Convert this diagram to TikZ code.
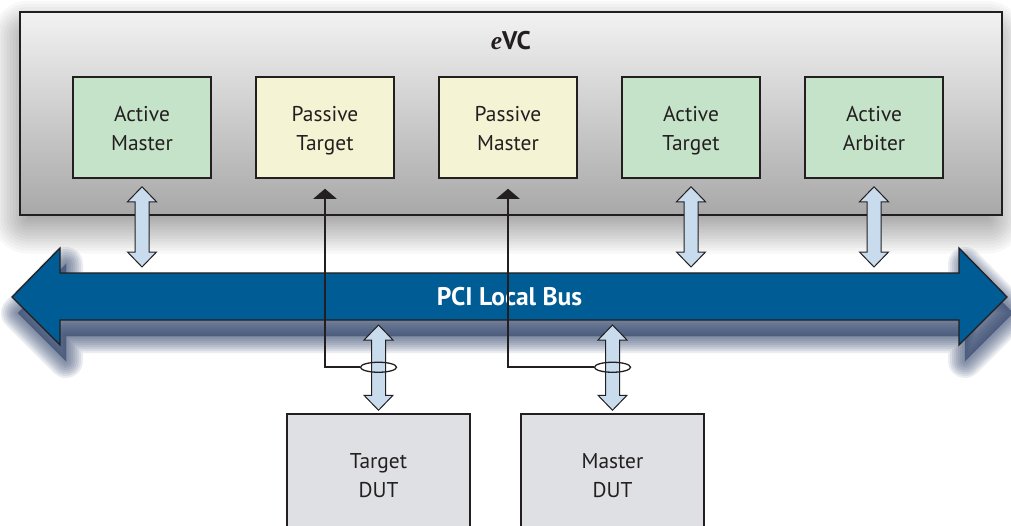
\documentclass[tikz,border=0pt]{standalone}
\usepackage{fontspec}
\setmainfont{PT Sans}
\newfontfamily\serifit{Liberation Serif}
\usetikzlibrary{positioning,arrows.meta,calc,shapes.geometric}

\pgfdeclarelayer{background}
\pgfsetlayers{background,main}

\definecolor{linedark}{HTML}{231F20}
\definecolor{activegreen}{HTML}{C5E3C9}
\definecolor{passiveyellow}{HTML}{F4F3D3}
\definecolor{busblue}{HTML}{005C94}
\definecolor{arrowblue}{HTML}{C9DCEE}
\definecolor{dutgray}{HTML}{DFE0E3}
\definecolor{busshadow}{HTML}{33466E}

% hollow double-headed arrow, #1 = upper tip, #2 = lower tip
\newcommand{\fatarrow}[2]{%
  \path[fat] let \p1=(#1), \p2=(#2) in
    (\x1,\y1) -- (\x1+14.5pt,\y1-15pt) -- (\x1+7pt,\y1-15pt)
    -- (\x1+7pt,\y2+15pt) -- (\x1+14.5pt,\y2+15pt) -- (\x1,\y2)
    -- (\x1-14.5pt,\y2+15pt) -- (\x1-7pt,\y2+15pt)
    -- (\x1-7pt,\y1-15pt) -- (\x1-14.5pt,\y1-15pt) -- cycle;}

\begin{document}
\begin{tikzpicture}[x=1pt, y=-1pt,
    unit/.style={draw=linedark, line width=1.5pt, minimum width=138pt, minimum height=101pt,
                 align=center, text=linedark, text height=52pt, text depth=5.5pt,
                 font=\fontsize{21.4}{29}\selectfont},
    active/.style={unit, fill=activegreen},
    passive/.style={unit, fill=passiveyellow},
    dut/.style={unit, fill=dutgray, minimum width=183pt, minimum height=121pt},
    fat/.style={fill=arrowblue, draw=linedark, line width=1pt},
    sigline/.style={draw=linedark, line width=2pt, -{Triangle[width=23pt,length=10pt]}},
    ring/.style={ellipse, draw=linedark, line width=1.3pt, minimum width=36pt,
                 minimum height=10pt, inner sep=0pt},
    bus shape/.style={insert path={(12,297) -- (60,248) -- (60,273) -- (959,273) -- (959,248)
                 -- (1007,297) -- (959,345) -- (959,320) -- (60,320) -- (60,345) -- cycle}}]
    \useasboundingbox (0,0) rectangle (1011,525);
    \clip (0,0) rectangle (1011,525);

    % eVC frame and its units
    \node[draw=linedark, line width=1.6pt, top color=black!5, bottom color=black!34,
          minimum width=982pt, minimum height=203pt, anchor=north west] (evc) at (19,11) {};
    \node[text=linedark, font=\bfseries\fontsize{25.5}{30}\selectfont] (evclabel)
        at ($(evc.north)+(0,30)$) {{\serifit\itshape e}VC};
    \foreach \b/\txt/\kind [count=\i from 0] in {am/{Active\\Master}/active,
                               pt/{Passive\\Target}/passive, pm/{Passive\\Master}/passive,
                               at/{Active\\Target}/active, aa/{Active\\Arbiter}/active} {
        \node[\kind] (\b) at (142+183*\i, 127.5) {\txt};
    }

    % PCI bus
    \draw[fill=busblue, draw=linedark, line width=1.3pt, bus shape];
    \node[text=white, font=\bfseries\fontsize{25.5}{30}\selectfont] (bus) at (509.5,297) {PCI Local Bus};
    \coordinate (busin) at (509.5,267);
    \coordinate (busout) at (509.5,325);

    % active units on the bus
    \foreach \b in {am,at,aa} {
        \coordinate[yshift=-8pt] (\b-up) at (\b.south);
        \coordinate (\b-dn) at (\b.south |- busin);
        \fatarrow{\b-up}{\b-dn}
    }

    % DUTs below the bus
    \node[dut] (tdut) at (378.5,474.5) {Target\\DUT};
    \node[dut] (mdut) at (612.5,474.5) {Master\\DUT};
    \foreach \b in {tdut,mdut} {
        \coordinate (\b-up) at (\b.north |- busout);
        \coordinate[yshift=3pt] (\b-dn) at (\b.north);
        \fatarrow{\b-up}{\b-dn}
    }

    % passive units monitor the DUT links
    \node[ring, yshift=46pt] (tring) at (tdut.north) {};
    \node[ring, yshift=46pt] (mring) at (mdut.north) {};
    \draw[sigline] (tring.west) -| ([yshift=-10pt]pt.south);
    \draw[sigline] (mring.west) -| ([yshift=-10pt]pm.south);

    % soft shadows
    \begin{pgfonlayer}{background}
        \fill[white] (0,0) rectangle (1011,525);
        \foreach \r in {-12,-9,...,24}
            \fill[black, opacity=0.027, rounded corners=12+\r]
                ($(evc.north west)+(-3-\r,14-\r)$) rectangle ($(evc.south east)+(-3+\r,14+\r)$);
        \foreach \w in {2,6,...,34}
            \filldraw[busshadow, opacity=0.1, line width=\w pt, line join=round,
                      shift={(6,16)}, bus shape];
    \end{pgfonlayer}
\end{tikzpicture}
\end{document}
